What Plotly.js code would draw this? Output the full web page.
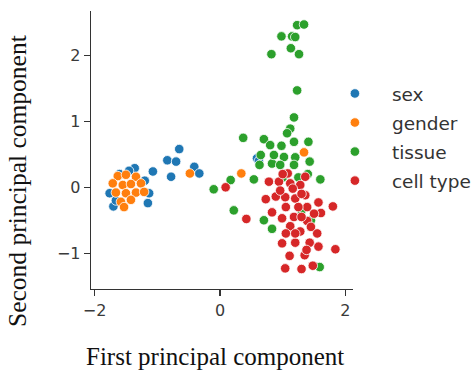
<!DOCTYPE html>
<html>
<head>
<meta charset="utf-8">
<script src="https://cdn.plot.ly/plotly-3.0.1.min.js"></script>
<style>html,body{margin:0;padding:0;background:#fff;}#chart{width:476px;height:373px;}</style>
</head>
<body>
<div id="chart"></div>
<script>
const seriesNames = ["sex", "gender", "tissue", "cell type"];
const seriesColors = ["#1f77b4", "#ff7f0e", "#2ca02c", "#d62728"];

const sexX = [-1.76,-1.70,-1.66,-1.15,-1.13,-1.36,-1.20,-1.07,-0.84,-0.78,-0.70,-0.65,-0.41,-0.33,0.59,0.62,-1.45,-1.60];
const sexY = [-0.09,-0.29,-0.20,-0.24,-0.09,0.29,0.10,0.24,0.41,0.16,0.39,0.58,0.31,0.21,0.44,0.40,0.25,0.20];

const genderX = [-1.63,-1.50,-1.34,-1.71,-1.55,-1.42,-1.26,-1.66,-1.50,-1.34,-1.21,-1.58,-1.42,-1.53,-0.48,0.34,1.34];
const genderY = [0.17,0.19,0.16,0.06,0.035,0.05,0.06,-0.08,-0.09,-0.08,-0.07,-0.22,-0.19,-0.30,0.21,0.21,0.53];

const tissueX = [1.23,1.34,0.98,1.15,1.20,0.82,1.13,1.26,1.23,1.18,1.12,1.07,0.37,0.70,0.80,0.98,1.18,1.41,0.65,0.83,1.02,1.20,1.43,0.63,0.86,1.18,0.96,0.54,0.17,1.60,-0.10,0.22,0.70,0.83,1.59,1.25,1.40,1.00,1.30,1.45];
const tissueY = [2.46,2.47,2.29,2.29,2.28,2.02,2.11,2.02,1.47,1.06,0.89,0.82,0.75,0.73,0.64,0.63,0.69,0.69,0.49,0.36,0.46,0.455,0.39,0.34,0.49,0.34,0.34,0.12,0.11,0.12,-0.03,-0.35,-0.50,-0.63,-1.21,0.15,0.20,0.15,-0.35,-0.50];

const cellX = [0.09,0.42,1.08,1.36,0.78,0.94,1.12,1.28,0.73,0.89,1.04,1.20,1.36,1.57,1.80,1.61,1.39,0.83,0.99,1.18,1.39,1.28,1.55,1.12,0.99,1.20,1.43,1.57,1.84,1.11,1.35,1.48,1.30,1.04,0.96,1.16,1.25,1.05,1.30,1.45,1.38,1.20,1.05,1.50,1.00,1.30];
const cellY = [0.00,-0.48,0.21,0.16,0.085,0.085,0.06,0.035,-0.18,-0.14,-0.15,-0.17,-0.12,-0.23,-0.29,-0.39,-0.30,-0.38,-0.47,-0.45,-0.51,-0.67,-0.70,-0.59,-0.85,-0.84,-0.84,-0.90,-0.94,-1.04,-1.03,-1.19,-1.24,-1.23,-0.05,-0.02,-0.30,-0.30,-0.45,-0.60,-0.95,-0.70,-0.70,-0.40,0.20,-0.10];

const xTicks = [-2, 0, 2];
const yTicks = [-1, 0, 1, 2];
const xTitle = "First principal component";
const yTitle = "Second principal component";

const allX = [sexX, genderX, tissueX, cellX];
const allY = [sexY, genderY, tissueY, cellY];

const traces = seriesNames.map((name, i) => ({
  type: "scatter",
  mode: "markers",
  name: name,
  legendgroup: "g" + i,
  x: allX[i],
  y: allY[i],
  marker: { color: seriesColors[i], size: 9.5, line: { color: "#ffffff", width: 0.8 } },
  hoverinfo: "x+y+name"
}));

const axisCommon = {
  showgrid: false,
  zeroline: false,
  showline: true,
  linecolor: "#333333",
  linewidth: 1.3,
  ticks: "outside",
  ticklen: 6,
  tickwidth: 1.3,
  tickcolor: "#333333",
  tickfont: { family: "DejaVu Sans", size: 16, color: "#3a3a3a" },
  mirror: false
};

const layout = {
  width: 476,
  height: 373,
  margin: { l: 91, r: 123, t: 11, b: 84, autoexpand: false },
  paper_bgcolor: "#ffffff",
  plot_bgcolor: "#ffffff",
  showlegend: true,
  xaxis: Object.assign({}, axisCommon, {
    range: [-2.057, 2.121],
    tickvals: xTicks,
    ticktext: xTicks.map(v => v < 0 ? "\u2212" + Math.abs(v) : String(v))
  }),
  yaxis: Object.assign({}, axisCommon, {
    range: [-1.543, 2.675],
    tickvals: yTicks,
    ticktext: yTicks.map(v => v < 0 ? "\u2212" + Math.abs(v) : String(v))
  }),
  legend: {
    x: 0.866, xanchor: "left",
    y: 0.77, yanchor: "top",
    font: { family: "DejaVu Sans", size: 18.5, color: "#333333" },
    itemwidth: 64,
    tracegroupgap: 2,
    bgcolor: "rgba(0,0,0,0)",
    borderwidth: 0
  },
  annotations: [
    { text: xTitle, xref: "paper", yref: "paper", x: (215 - 91) / 262, y: (289 - 356) / 278,
      xanchor: "center", yanchor: "middle", showarrow: false,
      font: { family: "Liberation Serif", size: 25, color: "#111111" } },
    { text: yTitle, xref: "paper", yref: "paper", x: (17 - 91) / 262, y: (289 - 181) / 278,
      xanchor: "center", yanchor: "middle", showarrow: false, textangle: -90,
      font: { family: "Liberation Serif", size: 25.5, color: "#111111" } }
  ]
};

Plotly.newPlot("chart", traces, layout, { displayModeBar: false, staticPlot: true });
</script>
</body>
</html>
